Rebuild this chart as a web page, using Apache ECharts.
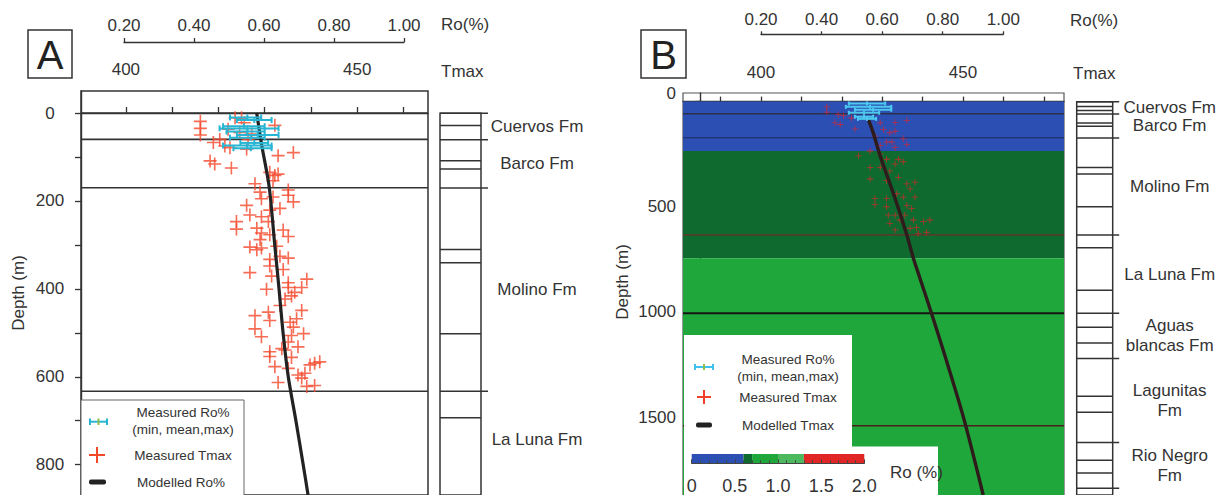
<!DOCTYPE html>
<html><head><meta charset="utf-8">
<script src="https://cdn.jsdelivr.net/npm/echarts@6/dist/echarts.min.js"></script>
<style>html,body{margin:0;padding:0;background:#fff}#c{width:1227px;height:495px}</style>
</head><body><div id="c"></div>
<script>
// ================= DATA =================
// axes
const tmaxTicksA = [400, 410, 420, 430, 440, 450, 460];
const tmaxTicksB = [390, 400, 410, 420, 430, 440, 450, 460, 470];
const tmaxLabels = [400, 450];
const depthTicksA = [0, 100, 200, 300, 400, 500, 600, 700, 800];
const depthLabelsA = [0, 200, 400, 600, 800];
const depthTicksB = [0, 500, 1000, 1500];

// Panel A : formations / lithology column
const formationNamesA = ['Cuervos Fm', 'Barco Fm', 'Molino Fm', 'La Luna Fm'];
const formationTopsA = [0, 60, 170, 633];
const sectionBaseA = 853;
const bedLinesA = [28, 108, 127, 310, 340, 502, 693];

// Panel A : measured Tmax [depth m, Tmax °C]
const tmaxA = [
  [19,416.1],[35,416.1],[50,416.1],[11,423.6],[37,422.1],[28,432.2],[67,418.9],[60,420.3],[75,421.4],[79,422.5],
  [82,426.1],[97,432.9],[90,436.2],[109,418.2],[116,419.2],[125,422.8],[135,431.1],[142,432.2],[139,432.9],[154,431.8],
  [161,427.9],[175,435.1],[180,429.0],[195,429.3],[191,431.8],[187,435.1],[202,436.2],[210,426.1],[221,431.1],[217,433.3],
  [232,426.8],[236,429.3],[247,423.9],[264,423.9],[262,428.3],[247,430.8],[288,429.0],[273,429.3],[277,431.1],[266,434.0],
  [281,435.1],[305,426.8],[311,428.3],[307,429.3],[303,432.6],[333,431.1],[348,431.1],[326,433.3],[330,435.1],[356,434.0],
  [363,426.8],[371,431.5],[401,430.4],[386,435.1],[397,435.1],[397,438.0],[378,439.1],[408,436.5],[423,434.4],[416,435.8],
  [438,433.3],[449,438.0],[461,427.9],[453,430.8],[472,431.1],[468,436.9],[476,435.5],[491,427.9],[487,436.2],[509,429.3],
  [502,438.4],[506,435.8],[521,435.1],[532,437.2],[543,431.1],[554,431.1],[536,433.7],[539,434.4],[556,435.8],[577,432.2],
  [581,435.1],[573,439.8],[569,440.8],[566,441.9],[596,437.2],[603,438.0],[592,438.7],[613,432.9],[622,439.1],[620,440.8],
  [11,425.0],[44,424.6],[60,426.4],[22,425.6],[48,427.2]
];
// Panel A : measured Ro% [depth, min, mean, max]
const roA = [
  [10,0.50,0.55,0.59],[16,0.52,0.57,0.62],[30,0.48,0.54,0.60],[35,0.47,0.55,0.64],[42,0.49,0.55,0.60],
  [50,0.52,0.58,0.64],[56,0.50,0.56,0.60],[68,0.53,0.57,0.61],[74,0.48,0.55,0.62],[80,0.51,0.56,0.62]
];
// Panel A : modelled Ro%
const modelDepthA = [0, 71, 168, 300, 397, 500, 600, 700, 800, 869];
const modelRoA = [0.577, 0.591, 0.613, 0.629, 0.641, 0.653, 0.668, 0.690, 0.711, 0.725];

// Panel B : formations / lithology column
const formationNamesB = ['Cuervos Fm', 'Barco Fm', 'Molino Fm', 'La Luna Fm', 'Aguas\nblancas Fm', 'Lagunitas\nFm', 'Rio Negro\nFm'];
const formationTopsB = [0, 59, 172, 634, 1006, 1221, 1620];
const sectionBaseB = 1838;
const bedLinesB = [23, 42, 101, 117, 313, 344, 500, 695, 897, 1072, 1147, 1400, 1476, 1705, 1765];
const plotLinesB = [58, 172, 634, 1006, 1541];

// Panel B : modelled Ro classes (background)
const bandTopsB = [0, 235, 745];
const bandBasesB = [235, 745, 1870];
const bandRoClassB = [0, 1, 2];

// Panel B : measured Tmax [depth, Tmax]
const tmaxB = [
  [25,416.3],[50,416.3],[101,418.3],[109,419.6],[62,419.1],[67,420.4],[130,423.3],[78,422.4],[101,429.5],[99,433.2],
  [89,436.1],[133,430.3],[148,431.9],[141,433.2],[164,428.2],[177,435.2],[192,431.1],[192,432.4],[203,436.1],[208,429.5],
  [219,433.2],[235,427.0],[258,424.1],[250,429.5],[274,431.1],[274,434.0],[313,427.0],[313,429.5],[297,433.2],[286,435.2],
  [329,431.9],[368,427.0],[376,431.1],[360,434.0],[391,436.1],[383,438.1],[415,436.9],[438,433.6],[454,435.2],[454,438.1],
  [461,428.2],[461,431.1],[490,428.2],[500,431.1],[493,436.1],[508,437.3],[540,431.5],[540,433.2],[540,435.6],[563,437.7],
  [571,440.2],[563,441.8],[602,436.9],[599,438.5],[610,433.2],[621,441.0],[626,438.9],[579,431.9],[563,434.4]
];
// Panel B : measured Ro% [depth, min, mean, max]
const roB = [[9,0.49,0.55,0.61],[25,0.48,0.56,0.63],[39,0.51,0.57,0.63],[53,0.49,0.54,0.59],[72,0.51,0.54,0.57],[82,0.52,0.55,0.58]];
// Panel B : modelled Tmax
const modelDepthB = [86, 150, 258, 461, 634, 743, 837, 1000, 1200, 1500, 1870];
const modelTmaxB = [426.6, 427.8, 429.5, 433.2, 436.1, 437.7, 439.3, 442.1, 445.4, 450.1, 455.0];

// Colour bar (Ro %)
const cbBreaks = [0, 0.6, 0.7, 1.0, 1.3, 2.0];

// ================= STYLE =================
const TXT = '#333';
const FONT = 'Liberation Sans';
const classColors = ['#2c4fb4', '#0e6a2f', '#1fa73b', '#4db95e', '#e12626'];
const plotLineStylesB = [
  {c:'#2c3048', w:1.6},{c:'#1e2a5a', w:1},{c:'#6e2c2a', w:1.3},{c:'#161616', w:2},{c:'#4e1e1e', w:1.4}
];
const roAt = t => 0.2 + (t - 400) / 75;   // Ro axis is aligned so 0.2 ↔ 400, 1.0 ↔ 460
const plusPath = 'path://M5.25,0H6.75V5.25H12V6.75H6.75V12H5.25V6.75H0V5.25H5.25Z';
const lab = {fontFamily: FONT, fontSize: 17, color: TXT};
const axLine = {lineStyle: {color: '#333', width: 1.4}};

function hLineRender(styleFn) {
  return function (params, api) {
    const cs = params.coordSys;
    const y = api.coord([api.value(0), api.value(1)])[1];
    const s = styleFn(params.dataIndex);
    return {type: 'line', shape: {x1: cs.x, y1: y, x2: cs.x + cs.width, y2: y}, style: {stroke: s.c, lineWidth: s.w}};
  };
}
function colRender(ext) {
  return function (params, api) {
    const a = api.coord([0, api.value(1)]), b = api.coord([1, api.value(1)]);
    return {type: 'line', shape: {x1: a[0], y1: a[1], x2: b[0] + (api.value(2) ? ext : 0), y2: a[1]},
      style: {stroke: '#333', lineWidth: 1.5}};
  };
}
function labelRender(names, dx) {
  return function (params, api) {
    const p = api.coord([1, api.value(1)]);
    return {type: 'text', x: p[0] + dx, y: p[1], style: {text: names[params.dataIndex], fill: TXT,
      font: '17px "' + FONT + '"', align: 'center', verticalAlign: 'middle', textAlign: 'center', textVerticalAlign: 'middle', lineHeight: 20}};
  };
}
function roBarRender(color, w, cap) {
  return function (params, api) {
    const d = api.value(0);
    const a = api.coord([api.value(1), d]), m = api.coord([api.value(2), d]), b = api.coord([api.value(3), d]);
    const st = {stroke: color, lineWidth: w};
    const v = x => ({type: 'line', shape: {x1: x, y1: a[1] - cap, x2: x, y2: a[1] + cap}, style: st});
    return {type: 'group', children: [
      {type: 'line', shape: {x1: a[0], y1: a[1], x2: b[0], y2: b[1]}, style: st}, v(a[0]), v(m[0]), v(b[0])]};
  };
}
function mids(tops, base) {
  return tops.map((t, i) => [0, (t + (i + 1 < tops.length ? tops[i + 1] : base)) / 2]);
}

const option = {
  animation: false,
  textStyle: {fontFamily: FONT},
  grid: [
    {left: 81, top: 91, width: 347, height: 409, show: true, borderColor: '#333', borderWidth: 1.5, backgroundColor: '#fff'},
    {left: 124, top: 41, width: 280, height: 1},
    {left: 440, top: 113.3, width: 41, height: 386.7, show: true, borderColor: '#333', borderWidth: 1.5},
    {left: 683, top: 93, width: 381, height: 407, show: true, borderColor: '#555', borderWidth: 1.2, backgroundColor: '#fff'},
    {left: 761, top: 33.3, width: 242.3, height: 1},
    {left: 1076.7, top: 101.7, width: 36, height: 398.3, show: true, borderColor: '#333', borderWidth: 1.5},
    {left: 691.7, top: 454, width: 172.6, height: 9.3}
  ],
  xAxis: [
    {gridIndex: 0, type: 'value', position: 'top', min: 390.3, max: 465.3, axisLine: axLine,
      axisTick: {customValues: tmaxTicksA, length: 6, lineStyle: {color: '#333', width: 1.3}},
      axisLabel: Object.assign({customValues: tmaxLabels, margin: 13}, lab), splitLine: {show: false}},
    {gridIndex: 0, type: 'value', min: roAt(390.3), max: roAt(465.3), show: false},
    {gridIndex: 1, type: 'value', position: 'top', min: 0.2, max: 1.0, interval: 0.2, axisLine: axLine,
      axisTick: {length: 4, lineStyle: {color: '#333', width: 1.3}},
      axisLabel: Object.assign({margin: 7, formatter: v => v.toFixed(2)}, lab), splitLine: {show: false}},
    {gridIndex: 2, type: 'value', min: 0, max: 1, show: false},
    {gridIndex: 3, type: 'value', position: 'top', min: 380.7, max: 475, axisLine: axLine,
      axisTick: {customValues: tmaxTicksB, length: 5, lineStyle: {color: '#333', width: 1.3}},
      axisLabel: Object.assign({customValues: tmaxLabels, margin: 12}, lab), splitLine: {show: false}},
    {gridIndex: 3, type: 'value', min: roAt(380.7), max: roAt(475), show: false},
    {gridIndex: 4, type: 'value', position: 'top', min: 0.2, max: 1.0, interval: 0.2, axisLine: axLine,
      axisTick: {length: 3, lineStyle: {color: '#333', width: 1.3}},
      axisLabel: Object.assign({margin: 5, formatter: v => v.toFixed(2)}, lab), splitLine: {show: false}},
    {gridIndex: 5, type: 'value', min: 0, max: 1, show: false},
    {gridIndex: 6, type: 'value', position: 'bottom', offset: 8.4, min: 0, max: 2, interval: 0.5, z: 60,
      axisLine: {lineStyle: {color: '#444', width: 1.2}},
      axisTick: {inside: true, length: 4, lineStyle: {color: '#444'}},
      minorTick: {show: true, splitNumber: 5, length: 3, lineStyle: {color: '#444'}},
      axisLabel: Object.assign({margin: 5, formatter: v => v === 0 ? '0' : v.toFixed(1)}, lab, {fontSize: 18}),
      splitLine: {show: false}}
  ],
  yAxis: [
    {gridIndex: 0, type: 'value', inverse: true, min: -50.1, max: 869, axisLine: axLine,
      axisTick: {customValues: depthTicksA, length: 6, lineStyle: {color: '#333', width: 1.3}},
      axisLabel: Object.assign({customValues: depthLabelsA, margin: 31, align: 'center'}, lab), splitLine: {show: false}},
    {gridIndex: 1, type: 'value', min: 0, max: 1, show: false},
    {gridIndex: 2, type: 'value', inverse: true, min: 0, max: 869, show: false},
    {gridIndex: 3, type: 'value', inverse: true, min: -40.8, max: 1870, axisLine: axLine,
      axisTick: {customValues: depthTicksB, length: 5, lineStyle: {color: '#333', width: 1.3}},
      axisLabel: Object.assign({customValues: depthTicksB, margin: 7,
        formatter: v => v === 0 ? '{z|0}' : String(v),
        rich: {z: {fontFamily: FONT, fontSize: 17, color: TXT, padding: [0, 0, 16, 0]}}}, lab),
      splitLine: {show: false}},
    {gridIndex: 4, type: 'value', min: 0, max: 1, show: false},
    {gridIndex: 5, type: 'value', inverse: true, min: 0, max: 1870, show: false},
    {gridIndex: 6, type: 'value', min: 0, max: 1, show: false}
  ],
  series: [
    // ---------- Panel A ----------
    {type: 'custom', xAxisIndex: 0, yAxisIndex: 0, z: 1, data: formationTopsA.map(d => [400, d]),
      renderItem: hLineRender(() => ({c: '#333', w: 1.6}))},
    {type: 'scatter', xAxisIndex: 0, yAxisIndex: 0, z: 3, symbol: plusPath, symbolSize: 13,
      itemStyle: {color: '#f4472a'}, data: tmaxA.map(p => [p[1], p[0]])},
    {type: 'line', xAxisIndex: 1, yAxisIndex: 0, z: 4, symbol: 'none', smooth: 0.3, lineStyle: {color: '#222', width: 3.2},
      data: modelDepthA.map((d, i) => [modelRoA[i], d])},
    {type: 'custom', xAxisIndex: 1, yAxisIndex: 0, z: 5, data: roA, renderItem: roBarRender('#27b5d3', 2, 3)},
    {type: 'custom', xAxisIndex: 3, yAxisIndex: 2, z: 2,
      data: formationTopsA.map(d => [0, d, 1]).concat(bedLinesA.map(d => [0, d, 0])), renderItem: colRender(7)},
    {type: 'custom', xAxisIndex: 3, yAxisIndex: 2, z: 2, data: mids(formationTopsA, sectionBaseA),
      renderItem: labelRender(formationNamesA, 56)},
    // ---------- Panel B ----------
    {type: 'custom', xAxisIndex: 4, yAxisIndex: 3, z: 1, clip: true,
      data: bandTopsB.map((t, i) => [t, bandBasesB[i]]),
      renderItem: function (params, api) {
        const cs = params.coordSys;
        const y0 = api.coord([400, api.value(0)])[1], y1 = api.coord([400, api.value(1)])[1];
        return {type: 'rect', shape: {x: cs.x, y: y0, width: cs.width, height: y1 - y0},
          style: {fill: classColors[bandRoClassB[params.dataIndex]]}};
      }},
    {type: 'custom', xAxisIndex: 4, yAxisIndex: 3, z: 2, data: plotLinesB.map(d => [400, d]),
      renderItem: hLineRender(i => plotLineStylesB[i])},
    {type: 'scatter', xAxisIndex: 4, yAxisIndex: 3, z: 3, symbol: plusPath, symbolSize: 6.5,
      itemStyle: {color: '#e0262b'}, data: tmaxB.map(p => [p[1], p[0]])},
    {type: 'line', xAxisIndex: 4, yAxisIndex: 3, z: 4, symbol: 'none', smooth: 0.3, lineStyle: {color: '#2e1b1b', width: 3.4},
      data: modelDepthB.map((d, i) => [modelTmaxB[i], d])},
    {type: 'custom', xAxisIndex: 5, yAxisIndex: 3, z: 5, data: roB, renderItem: roBarRender('#4cc9ef', 2, 2)},
    {type: 'custom', xAxisIndex: 7, yAxisIndex: 5, z: 2,
      data: formationTopsB.concat([sectionBaseB]).map(d => [0, d, 1]).concat(bedLinesB.map(d => [0, d, 0])),
      renderItem: colRender(6.5)},
    {type: 'custom', xAxisIndex: 7, yAxisIndex: 5, z: 2, data: mids(formationTopsB, sectionBaseB),
      renderItem: labelRender(formationNamesB, 57)},
    // ---------- colour bar ----------
    {type: 'custom', xAxisIndex: 8, yAxisIndex: 6, z: 60,
      data: cbBreaks.slice(0, -1).map((b, i) => [b, cbBreaks[i + 1]]),
      renderItem: function (params, api) {
        const a = api.coord([api.value(0), 1]), b = api.coord([api.value(1), 0]);
        return {type: 'rect', shape: {x: a[0], y: a[1], width: b[0] - a[0], height: b[1] - a[1]},
          style: {fill: classColors[params.dataIndex]}};
      }}
  ],
  graphic: [
    // panel letters
    {type: 'rect', z: 50, shape: {x: 28, y: 30, width: 44, height: 48}, style: {fill: '#fff', stroke: '#333', lineWidth: 1.5}},
    {type: 'text', z: 51, x: 50, y: 55, style: {text: 'A', font: '40px "' + FONT + '"', fill: '#222', align: 'center', verticalAlign: 'middle'}},
    {type: 'rect', z: 50, shape: {x: 641, y: 30, width: 45, height: 48}, style: {fill: '#fff', stroke: '#333', lineWidth: 1.5}},
    {type: 'text', z: 51, x: 663.5, y: 55, style: {text: 'B', font: '40px "' + FONT + '"', fill: '#222', align: 'center', verticalAlign: 'middle'}},
    // axis titles
    {type: 'text', z: 51, x: 441, y: 24, style: {text: 'Ro(%)', font: '17px "' + FONT + '"', fill: TXT, align: 'left', verticalAlign: 'middle'}},
    {type: 'text', z: 51, x: 441, y: 71, style: {text: 'Tmax', font: '17px "' + FONT + '"', fill: TXT, align: 'left', verticalAlign: 'middle'}},
    {type: 'text', z: 51, x: 1070, y: 20, style: {text: 'Ro(%)', font: '17px "' + FONT + '"', fill: TXT, align: 'left', verticalAlign: 'middle'}},
    {type: 'text', z: 51, x: 1073, y: 73, style: {text: 'Tmax', font: '17px "' + FONT + '"', fill: TXT, align: 'left', verticalAlign: 'middle'}},
    {type: 'text', z: 51, x: 18, y: 293, rotation: Math.PI / 2, style: {text: 'Depth (m)', font: '17px "' + FONT + '"', fill: TXT, align: 'center', verticalAlign: 'middle'}},
    {type: 'text', z: 51, x: 622, y: 282, rotation: Math.PI / 2, style: {text: 'Depth (m)', font: '17px "' + FONT + '"', fill: TXT, align: 'center', verticalAlign: 'middle'}},
    // legend A
    {type: 'rect', z: 50, shape: {x: 81, y: 400, width: 163, height: 100}, style: {fill: '#fff', stroke: '#666', lineWidth: 1}},
    {type: 'group', z: 51, children: [
      {type: 'line', z: 51, shape: {x1: 90, y1: 421.7, x2: 107, y2: 421.7}, style: {stroke: '#27b5d3', lineWidth: 2}},
      {type: 'line', z: 51, shape: {x1: 90, y1: 418.5, x2: 90, y2: 425}, style: {stroke: '#27b5d3', lineWidth: 2}},
      {type: 'line', z: 51, shape: {x1: 98.5, y1: 418.5, x2: 98.5, y2: 425}, style: {stroke: '#8fbf4a', lineWidth: 2}},
      {type: 'line', z: 51, shape: {x1: 107, y1: 418.5, x2: 107, y2: 425}, style: {stroke: '#27b5d3', lineWidth: 2}}
    ]},
    {type: 'text', z: 51, x: 183, y: 412, style: {text: 'Measured Ro%', font: '13.5px "' + FONT + '"', fill: TXT, align: 'center', verticalAlign: 'middle'}},
    {type: 'text', z: 51, x: 183, y: 429, style: {text: '(min, mean,max)', font: '13.5px "' + FONT + '"', fill: TXT, align: 'center', verticalAlign: 'middle'}},
    {type: 'line', z: 51, shape: {x1: 97, y1: 447, x2: 97, y2: 463}, style: {stroke: '#f4472a', lineWidth: 2}},
    {type: 'line', z: 51, shape: {x1: 89, y1: 455, x2: 105, y2: 455}, style: {stroke: '#f4472a', lineWidth: 2}},
    {type: 'text', z: 51, x: 183, y: 455, style: {text: 'Measured Tmax', font: '13.5px "' + FONT + '"', fill: TXT, align: 'center', verticalAlign: 'middle'}},
    {type: 'rect', z: 51, shape: {x: 89, y: 479.5, width: 17, height: 5, r: 2}, style: {fill: '#222'}},
    {type: 'text', z: 51, x: 181, y: 482, style: {text: 'Modelled Ro%', font: '13.5px "' + FONT + '"', fill: TXT, align: 'center', verticalAlign: 'middle'}},
    // legend B
    {type: 'rect', z: 50, shape: {x: 684, y: 335, width: 168, height: 112}, style: {fill: '#fff'}},
    {type: 'rect', z: 50, shape: {x: 684, y: 446.5, width: 254, height: 52}, style: {fill: '#fff'}},
    {type: 'group', z: 51, children: [
      {type: 'line', z: 51, shape: {x1: 695, y1: 367, x2: 713, y2: 367}, style: {stroke: '#3fc0ee', lineWidth: 2}},
      {type: 'line', z: 51, shape: {x1: 695, y1: 364, x2: 695, y2: 370}, style: {stroke: '#3fc0ee', lineWidth: 2}},
      {type: 'line', z: 51, shape: {x1: 704, y1: 364, x2: 704, y2: 370}, style: {stroke: '#8fbf4a', lineWidth: 2}},
      {type: 'line', z: 51, shape: {x1: 713, y1: 364, x2: 713, y2: 370}, style: {stroke: '#3fc0ee', lineWidth: 2}}
    ]},
    {type: 'text', z: 51, x: 788, y: 359, style: {text: 'Measured Ro%', font: '13.5px "' + FONT + '"', fill: TXT, align: 'center', verticalAlign: 'middle'}},
    {type: 'text', z: 51, x: 788, y: 376, style: {text: '(min, mean,max)', font: '13.5px "' + FONT + '"', fill: TXT, align: 'center', verticalAlign: 'middle'}},
    {type: 'line', z: 51, shape: {x1: 704, y1: 390, x2: 704, y2: 404}, style: {stroke: '#f0402a', lineWidth: 2}},
    {type: 'line', z: 51, shape: {x1: 697, y1: 397, x2: 711, y2: 397}, style: {stroke: '#f0402a', lineWidth: 2}},
    {type: 'text', z: 51, x: 788, y: 397, style: {text: 'Measured Tmax', font: '13.5px "' + FONT + '"', fill: TXT, align: 'center', verticalAlign: 'middle'}},
    {type: 'rect', z: 51, shape: {x: 696, y: 422.5, width: 16, height: 5, r: 2}, style: {fill: '#222'}},
    {type: 'text', z: 51, x: 788, y: 425, style: {text: 'Modelled Tmax', font: '13.5px "' + FONT + '"', fill: TXT, align: 'center', verticalAlign: 'middle'}},
    {type: 'text', z: 61, x: 890, y: 472, style: {text: 'Ro (%)', font: '17px "' + FONT + '"', fill: TXT, align: 'left', verticalAlign: 'middle'}}
  ]
};

const chart = echarts.init(document.getElementById('c'), null, {renderer: 'svg', width: 1227, height: 495});
chart.setOption(option);
</script>
</body></html>
